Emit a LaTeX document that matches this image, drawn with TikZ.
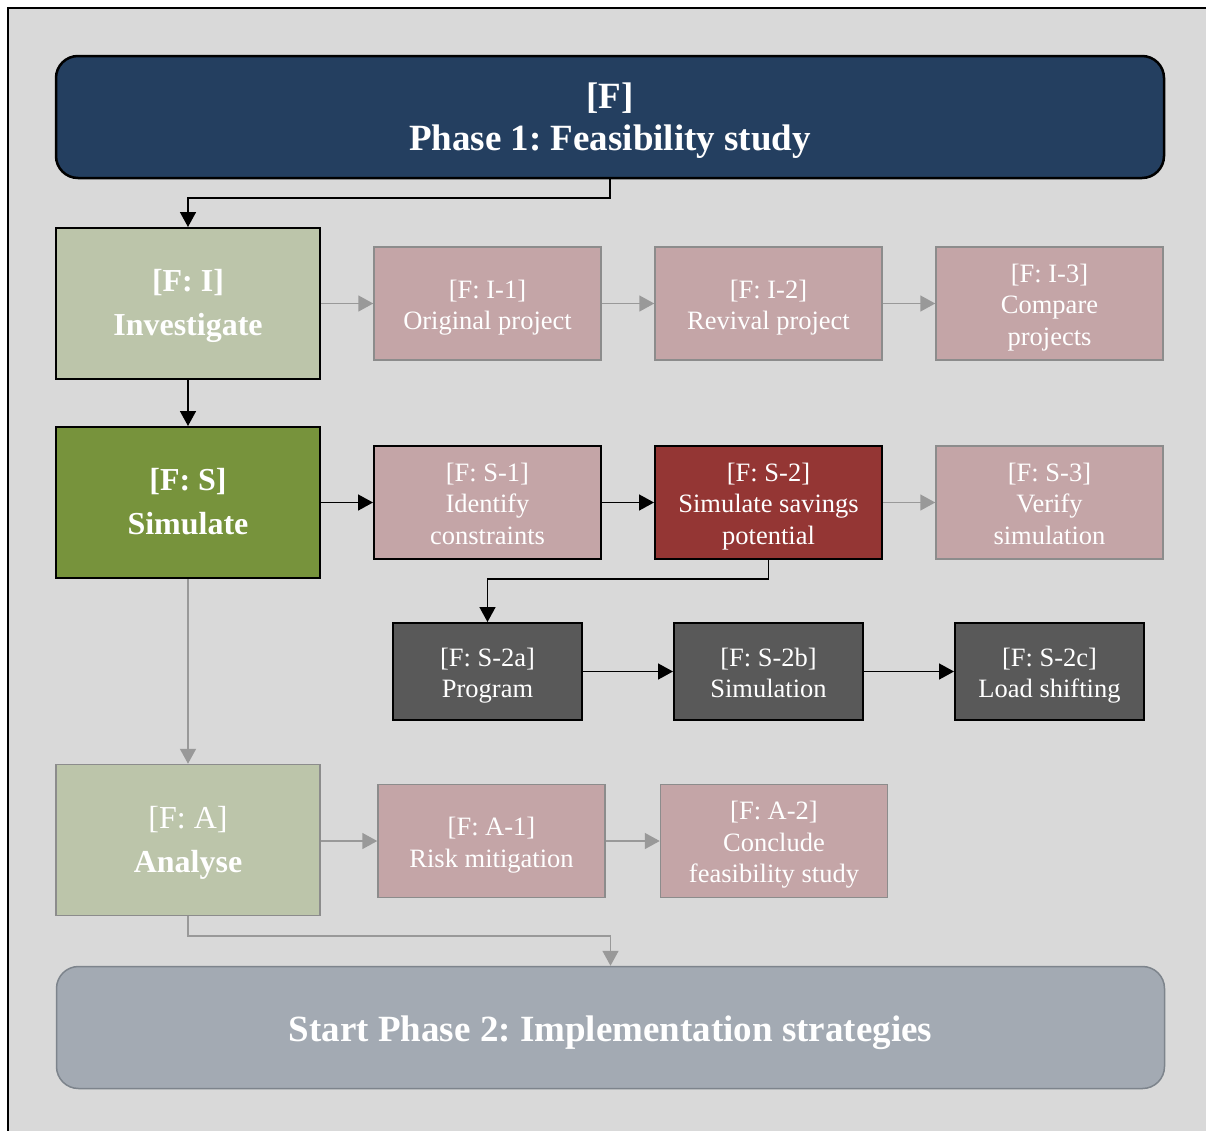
\documentclass[tikz,border=0pt]{standalone}
\usepackage{fontspec}
\setmainfont{Liberation Serif}
\usetikzlibrary{arrows.meta}
\frenchspacing

\definecolor{bgcol}{HTML}{D9D9D9}
\definecolor{navy}{HTML}{243F60}
\definecolor{sage}{HTML}{BCC5AA}
\definecolor{olive}{HTML}{77933C}
\definecolor{rose}{HTML}{C4A5A7}
\definecolor{brick}{HTML}{943634}
\definecolor{slate}{HTML}{595959}
\definecolor{steel}{HTML}{A3AAB3}
\definecolor{steeledge}{HTML}{7D848C}
\definecolor{linegray}{HTML}{999999}
\definecolor{edgegray}{HTML}{8C8C8C}

% centred lines of text, set a little lower than the geometric centre
\newcommand\boxlines[2][4pt]{\raisebox{-#1}[\height][\depth]{\begin{tabular}{@{}c@{}}#2\end{tabular}}}

\tikzset{
  x=1pt, y=-1pt,
  box/.style={rectangle, inner sep=0pt, text=white},
  phasebox/.style={box, rounded corners=22pt, minimum width=1108pt, minimum height=122pt,
    font=\fontsize{37}{42}\selectfont\bfseries},
  mainbox/.style={box, minimum width=264pt, minimum height=151pt,
    font=\fontsize{32}{44}\selectfont},
  subbox/.style={box, minimum width=227pt, minimum height=113pt,
    font=\fontsize{26.5}{31.5}\selectfont},
  runbox/.style={box, fill=slate, draw=black, line width=2pt, minimum width=189pt, minimum height=97pt,
    font=\fontsize{26.5}{31.5}\selectfont},
  softsub/.style={subbox, fill=rose, draw=edgegray, line width=1.5pt},
  hardsub/.style={subbox, draw=black, line width=2pt},
  flow/.style={draw=black, line width=1.6pt, -{Triangle[length=15pt,width=16pt]}},
  softflow/.style={draw=linegray, line width=1.6pt, -{Triangle[length=15pt,width=16pt]}},
}

\begin{document}
\begin{tikzpicture}
  \useasboundingbox (0,0) rectangle (1206,1130);
  \clip (0,0) rectangle (1206,1130);
  \fill[white] (0,0) rectangle (1206,1130);
  \draw[fill=bgcol, line width=2pt] (8,8) rectangle (1230,1150);

  % phase headers
  \node[phasebox, fill=navy, draw=black, line width=2.5pt] (title) at (610,117)
    {\boxlines[4.5pt]{[F]\\Phase 1: Feasibility study}};
  \node[phasebox, fill=steel, draw=steeledge, line width=1.5pt] (next) at (610.5,1027.5)
    {\boxlines[6pt]{Start Phase 2: Implementation strategies}};

  % main steps
  \node[mainbox, fill=sage, draw=black, line width=2pt] (inv) at (188,303.5)
    {\boxlines[1.5pt]{\bfseries [F: I]\\\bfseries Investigate}};
  \node[mainbox, fill=olive, draw=black, line width=2pt] (sim) at (188,502.5)
    {\boxlines[1.5pt]{\bfseries [F: S]\\\bfseries Simulate}};
  \node[mainbox, fill=sage, draw=edgegray, line width=1.5pt] (ana) at (188,840)
    {\boxlines[1.5pt]{[F: A]\\\bfseries Analyse}};

  % investigate sub-steps
  \node[softsub] (i1) at (487.5,303.5) {\boxlines{[F: I-1]\\Original project}};
  \node[softsub] (i2) at (768.5,303.5) {\boxlines{[F: I-2]\\Revival project}};
  \node[softsub] (i3) at (1049.5,303.5) {\boxlines{[F: I-3]\\Compare\\projects}};

  % simulate sub-steps
  \node[hardsub, fill=rose] (s1) at (487.5,502.5) {\boxlines{[F: S-1]\\Identify\\constraints}};
  \node[hardsub, fill=brick] (s2) at (768.5,502.5) {\boxlines{[F: S-2]\\Simulate savings\\potential}};
  \node[softsub] (s3) at (1049.5,502.5) {\boxlines{[F: S-3]\\Verify\\simulation}};

  % simulation details
  \node[runbox] (s2a) at (487.5,671.5) {\boxlines{[F: S-2a]\\Program}};
  \node[runbox] (s2b) at (768.5,671.5) {\boxlines{[F: S-2b]\\Simulation}};
  \node[runbox] (s2c) at (1049.5,671.5) {\boxlines{[F: S-2c]\\Load shifting}};

  % analyse sub-steps
  \node[softsub] (a1) at (491.5,841) {\boxlines{[F: A-1]\\Risk mitigation}};
  \node[softsub] (a2) at (774,841) {\boxlines{[F: A-2]\\Conclude\\feasibility study}};

  % connectors
  \draw[flow] (title.south) -- ++(0,19) -| (inv.north);
  \draw[flow] (inv.south) -- (sim.north);
  \draw[softflow] (inv.east) -- (i1.west);
  \draw[softflow] (i1.east) -- (i2.west);
  \draw[softflow] (i2.east) -- (i3.west);

  \draw[flow] (sim.east) -- (s1.west);
  \draw[flow] (s1.east) -- (s2.west);
  \draw[softflow] (s2.east) -- (s3.west);
  \draw[flow] (s2.south) -- ++(0,19) -| (s2a.north);
  \draw[flow] (s2a.east) -- (s2b.west);
  \draw[flow] (s2b.east) -- (s2c.west);

  \draw[softflow] (sim.south) -- (ana.north);
  \draw[softflow] (ana.east |- a1.west) -- (a1.west);
  \draw[softflow] (a1.east) -- (a2.west);
  \draw[softflow] (ana.south) -- ++(0,20) -| (next.north);
\end{tikzpicture}
\end{document}
